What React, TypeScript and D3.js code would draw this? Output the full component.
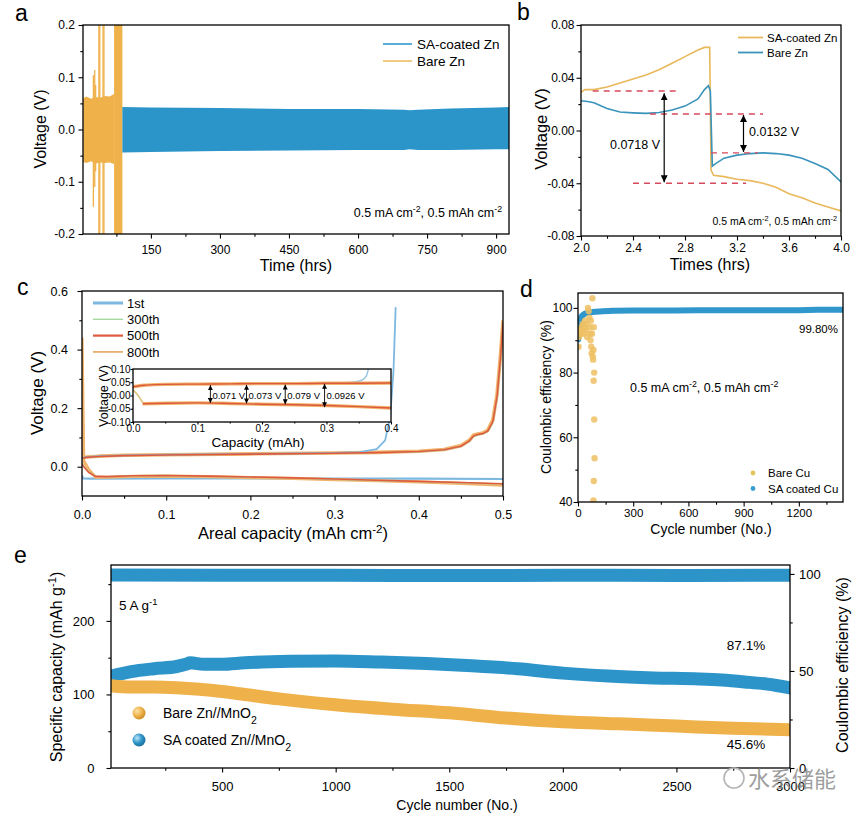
import * as d3 from "d3";
import React, { useEffect, useRef } from "react";

const FONT = "'Liberation Sans', Arial, Helvetica, sans-serif";

// ---- panel a: long-term cycling of Zn symmetric cells (envelopes of the dense trace)
const bareBandTime = [3, 10, 20, 30, 40, 50, 60, 70];
const bareBandHigh = [0.060, 0.063, 0.059, 0.062, 0.061, 0.064, 0.063, 0.068];
const bareBandLow = [-0.062, -0.064, -0.061, -0.065, -0.063, -0.064, -0.063, -0.066];
const bareSpikeTime = [25, 28, 30, 37, 39, 46, 48];
const bareSpikeHigh = [0.104, 0.114, 0.085, 0.2, 0.2, 0.2, 0.2];
const bareSpikeLow = [-0.148, -0.11, -0.08, -0.2, -0.2, -0.2, -0.2];
const bareFailTime = [70, 88];
const bareFailHigh = [0.2, 0.2];
const bareFailLow = [-0.2, -0.2];
const saBandTime = [88, 150, 300, 450, 600, 700, 712, 730, 800, 900, 928];
const saBandHigh = [0.043, 0.042, 0.041, 0.039, 0.039, 0.038, 0.037, 0.038, 0.040, 0.042, 0.043];
const saBandLow = [-0.044, -0.043, -0.041, -0.040, -0.039, -0.039, -0.038, -0.039, -0.039, -0.038, -0.038];
const aTimeTicks = [150, 300, 450, 600, 750, 900];
const aTimeMinor = [75, 225, 375, 525, 675, 825];
const aVoltTicks = [-0.2, -0.1, 0, 0.1, 0.2];
const aVoltMinor = [-0.15, -0.05, 0.05, 0.15];

// ---- panel b: single cycle zoom
const bSaTime = [2.0, 2.03, 2.1, 2.2, 2.3, 2.4, 2.5, 2.6, 2.7, 2.8, 2.9, 2.95, 2.99, 3.0, 3.02, 3.1, 3.2, 3.3, 3.4, 3.5, 3.6, 3.7, 3.8, 3.9, 4.0];
const bSaVolt = [0.029, 0.031, 0.031, 0.033, 0.036, 0.039, 0.042, 0.046, 0.051, 0.056, 0.061, 0.063, 0.063, -0.030, -0.034, -0.035, -0.037, -0.038, -0.040, -0.043, -0.048, -0.051, -0.055, -0.058, -0.061];
const bBareTime = [2.0, 2.05, 2.1, 2.2, 2.3, 2.4, 2.5, 2.6, 2.7, 2.8, 2.9, 2.95, 2.98, 2.995, 3.01, 3.03, 3.1, 3.2, 3.3, 3.4, 3.5, 3.6, 3.7, 3.8, 3.9, 4.0];
const bBareVolt = [0.0226, 0.022, 0.021, 0.0167, 0.014, 0.0134, 0.013, 0.0137, 0.0155, 0.0185, 0.024, 0.031, 0.034, 0.030, -0.027, -0.0255, -0.021, -0.0187, -0.0175, -0.017, -0.0175, -0.0187, -0.021, -0.025, -0.0296, -0.039];
const bDashY = [0.030, 0.0125, -0.017, -0.040];
const bDashFrom = [2.09, 2.53, 3.0, 2.4];
const bDashTo = [2.76, 3.4, 3.36, 3.27];
const bArrowX = [2.64, 3.25];
const bArrowTop = [0.029, 0.0125];
const bArrowBottom = [-0.040, -0.017];
const bTimeTicks = [2.0, 2.4, 2.8, 3.2, 3.6, 4.0];
const bTimeMinor = [2.2, 2.6, 3.0, 3.4, 3.8];
const bVoltTicks = [-0.08, -0.04, 0, 0.04, 0.08];
const bVoltMinor = [-0.06, -0.02, 0.02, 0.06];

// ---- panel c: voltage profiles
const cChargeCap = [0, 0.005, 0.02, 0.05, 0.1, 0.2, 0.3, 0.35, 0.4, 0.43, 0.45, 0.46, 0.465, 0.47, 0.476, 0.482, 0.488, 0.493, 0.497, 0.5];
const c800Charge = [0.030, 0.033, 0.036, 0.039, 0.041, 0.044, 0.047, 0.049, 0.053, 0.059, 0.072, 0.090, 0.108, 0.112, 0.115, 0.125, 0.160, 0.250, 0.380, 0.500];
const c500Charge = [0.029, 0.032, 0.035, 0.038, 0.040, 0.043, 0.046, 0.048, 0.052, 0.058, 0.070, 0.088, 0.105, 0.110, 0.113, 0.122, 0.155, 0.240, 0.370, 0.490];
const c300Charge = [0.029, 0.032, 0.035, 0.038, 0.040, 0.043, 0.046, 0.048, 0.051, 0.057, 0.069, 0.086, 0.103, 0.108, 0.112, 0.120, 0.150, 0.230, 0.360, 0.480];
const c1stChargeCap = [0, 0.005, 0.02, 0.05, 0.1, 0.2, 0.3, 0.33, 0.35, 0.36, 0.366, 0.37, 0.3725];
const c1stCharge = [0.030, 0.033, 0.036, 0.039, 0.041, 0.044, 0.047, 0.050, 0.060, 0.090, 0.170, 0.330, 0.545];
const cDischargeCap = [0, 0.002, 0.008, 0.016, 0.03, 0.06, 0.1, 0.15, 0.2, 0.25, 0.3, 0.35, 0.4, 0.45, 0.5];
const c800Discharge = [0.44, 0.02, -0.01, -0.036, -0.036, -0.033, -0.032, -0.034, -0.037, -0.040, -0.044, -0.048, -0.052, -0.057, -0.063];
const c500Discharge = [0.01, 0.0, -0.02, -0.033, -0.034, -0.031, -0.030, -0.032, -0.035, -0.038, -0.042, -0.046, -0.050, -0.054, -0.058];
const c300Discharge = [0.012, 0.002, -0.018, -0.032, -0.034, -0.031, -0.030, -0.033, -0.036, -0.039, -0.043, -0.047, -0.051, -0.055, -0.059];
const c1stDischargeCap = [0, 0.001, 0.01, 0.1, 0.2, 0.3, 0.4, 0.5];
const c1stDischarge = [-0.03, -0.040, -0.041, -0.040, -0.040, -0.041, -0.041, -0.042];
const cCapTicks = [0, 0.1, 0.2, 0.3, 0.4, 0.5];
const cCapMinor = [0.05, 0.15, 0.25, 0.35, 0.45];
const cVoltTicks = [0, 0.2, 0.4, 0.6];
const cVoltMinor = [0.1, 0.3, 0.5];
const cLegend = ["1st", "300th", "500th", "800th"];

// ---- panel c inset (mAh)
const insUpCap = [0, 0.01, 0.02, 0.05, 0.1, 0.15, 0.2, 0.25, 0.3, 0.35, 0.4];
const insUp = [0.033, 0.037, 0.039, 0.042, 0.043, 0.044, 0.045, 0.045, 0.046, 0.046, 0.047];
const insLowCap = [0.015, 0.05, 0.1, 0.15, 0.2, 0.25, 0.3, 0.35, 0.4];
const insLow = [-0.031, -0.029, -0.028, -0.030, -0.033, -0.035, -0.038, -0.042, -0.047];
const insDropCap = [0, 0.008, 0.015, 0.02];
const insDrop = [0.021, 0.0, -0.025, -0.031];
const ins1stCap = [0.3, 0.34, 0.355, 0.362, 0.366];
const ins1st = [0.046, 0.050, 0.058, 0.075, 0.110];
const insArrowCap = [0.12, 0.176, 0.236, 0.297];
const insArrowTop = [0.041, 0.042, 0.043, 0.046];
const insArrowBottom = [-0.030, -0.032, -0.035, -0.046];
const insArrowLabel = ["0.071 V", "0.073 V", "0.079 V", "0.0926 V"];
const insCapTicks = [0, 0.1, 0.2, 0.3, 0.4];
const insVoltTicks = [-0.1, -0.05, 0, 0.05, 0.1];

// ---- panel d: Coulombic efficiency of Zn||Cu
const dSaCycle = [1, 3, 6, 10, 18, 30, 45, 80, 120, 200, 300, 500, 800, 1000, 1200, 1300, 1440];
const dSaCE = [90.3, 93, 95, 96.3, 97.2, 97.9, 98.4, 98.7, 98.9, 99.1, 99.2, 99.2, 99.3, 99.3, 99.3, 99.4, 99.4];
const dBareCycle = [3, 6, 10, 14, 18, 22, 26, 30, 34, 38, 42, 46, 50, 54, 58, 62, 64, 66, 68, 70, 72, 74, 76, 78, 80, 82, 84, 86, 88, 85, 88, 90, 86, 84];
const dBareCE = [88, 91, 93, 92, 94, 93, 95, 92, 94, 96, 93, 95, 91, 100, 99, 97, 94, 92, 90, 96, 88, 86, 92, 103, 85, 84, 87, 94, 80, 77.5, 65.5, 53.5, 46.5, 40.5];
const dCycleTicks = [0, 300, 600, 900, 1200];
const dCycleMinor = [150, 450, 750, 1050, 1350];
const dCETicks = [40, 60, 80, 100];
const dCEMinor = [50, 70, 90];

// ---- panel e: Zn//MnO2 full cells at 5 A g-1
const eSaCycle = [12, 100, 200, 300, 340, 360, 420, 500, 600, 800, 1000, 1200, 1400, 1600, 1800, 2000, 2200, 2400, 2600, 2700, 2800, 2900, 3000];
const eSaCap = [125, 131, 135, 138, 141, 143, 141, 141, 143, 145, 145.5, 144, 142, 139, 135, 129, 125, 122.5, 121, 119.5, 117, 114, 109];
const eBareCycle = [12, 100, 200, 300, 400, 500, 600, 750, 1000, 1250, 1500, 1750, 2000, 2250, 2500, 2750, 3000];
const eBareCap = [112, 110, 110, 109, 107, 104, 100, 94, 86, 80, 75, 68, 63, 60, 57, 54, 52];
const eCECycle = [12, 500, 1000, 1500, 2000, 2500, 3000];
const eCE = [99.4, 99.3, 99.3, 99.2, 99.3, 99.2, 99.3];
const eCycleTicks = [500, 1000, 1500, 2000, 2500, 3000];
const eCycleMinor = [250, 750, 1250, 1750, 2250, 2750];
const eCapTicks = [0, 100, 200];
const eCapMinor = [50, 150, 250];
const eCETicks = [0, 50, 100];
const eCEMinor = [25, 75];

const BLUE = "#2b95ca";
const ORANGE = "#efb24b";

type G = d3.Selection<SVGGElement, unknown, null, undefined>;
type Lin = d3.ScaleLinear<number, number>;
type Part = [string, string?];

function drawAxis(g: G, scale: Lin, side: "bottom" | "left" | "right", at: number,
  major: number[], minor: number[], fmt: (v: number) => string, fontSize: number, pad: number, len = 4.5) {
  const make = side === "bottom" ? d3.axisBottom : side === "left" ? d3.axisLeft : d3.axisRight;
  const tr = side === "bottom" ? `translate(0,${at})` : `translate(${at},0)`;
  const gMinor = g.append("g").attr("transform", tr)
    .call(make(scale).tickValues(minor).tickSize(len * 0.6).tickFormat(() => ""));
  const gMajor = g.append("g").attr("transform", tr)
    .call(make(scale).tickValues(major).tickSize(len).tickPadding(pad).tickFormat((v: any) => fmt(+v)));
  [gMinor, gMajor].forEach(s => {
    s.select(".domain").remove();
    s.attr("font-size", fontSize).attr("font-family", FONT).style("color", "#000");
    s.selectAll("line").attr("stroke-width", 1.1);
  });
}

function frame(g: G, x: Lin, y: Lin) {
  const [x0, x1] = x.range();
  const [y0, y1] = y.range();
  g.append("rect")
    .attr("x", Math.min(x0, x1)).attr("y", Math.min(y0, y1))
    .attr("width", Math.abs(x1 - x0)).attr("height", Math.abs(y1 - y0))
    .attr("fill", "none").attr("stroke", "#000").attr("stroke-width", 1.3);
}

function clipTo(g: G, id: string, x: Lin, y: Lin) {
  const [x0, x1] = x.range();
  const [y0, y1] = y.range();
  g.append("clipPath").attr("id", id).append("rect")
    .attr("x", Math.min(x0, x1)).attr("y", Math.min(y0, y1))
    .attr("width", Math.abs(x1 - x0)).attr("height", Math.abs(y1 - y0));
  return g.append("g").attr("clip-path", `url(#${id})`);
}

function text(g: G, x: number, y: number, parts: Part[] | string, size: number, anchor = "start", rotate = false) {
  const t = g.append("text")
    .attr("font-family", FONT).attr("font-size", size).attr("fill", "#000")
    .attr("text-anchor", anchor);
  if (rotate) {
    t.attr("transform", `translate(${x},${y}) rotate(-90)`).attr("dy", "0.35em");
  } else {
    t.attr("x", x).attr("y", y);
  }
  const list: Part[] = typeof parts === "string" ? [[parts]] : parts;
  list.forEach(([s, kind]) => {
    const ts = t.append("tspan").text(s);
    if (kind === "sup") ts.attr("baseline-shift", "super").attr("font-size", "70%");
    if (kind === "sub") ts.attr("baseline-shift", "sub").attr("font-size", "75%");
  });
  return t;
}

function pathOf(xs: number[], ys: number[], x: Lin, y: Lin, curve = d3.curveMonotoneX as d3.CurveFactory) {
  return d3.line<number>().x((_, i) => x(xs[i])).y((_, i) => y(ys[i])).curve(curve)(xs) || "";
}

function bandOf(xs: number[], lo: number[], hi: number[], x: Lin, y: Lin) {
  return d3.area<number>().x((_, i) => x(xs[i])).y0((_, i) => y(lo[i])).y1((_, i) => y(hi[i])).curve(d3.curveLinear)(xs) || "";
}

const condition: Part[] = [["0.5 mA cm"], ["-2", "sup"], [", 0.5 mAh cm"], ["-2", "sup"]];

function panelA(g: G) {
  const x = d3.scaleLinear().domain([2.5, 928]).range([83, 509]);
  const y = d3.scaleLinear().domain([-0.2, 0.2]).range([234, 25]);
  const c = clipTo(g, "clipA", x, y);
  c.append("path").attr("d", bandOf(bareBandTime, bareBandLow, bareBandHigh, x, y)).attr("fill", ORANGE);
  bareSpikeTime.forEach((t, i) => {
    c.append("line").attr("x1", x(t)).attr("x2", x(t)).attr("y1", y(bareSpikeLow[i])).attr("y2", y(bareSpikeHigh[i]))
      .attr("stroke", ORANGE).attr("stroke-width", 1.3);
  });
  c.append("path").attr("d", bandOf(bareFailTime, bareFailLow, bareFailHigh, x, y)).attr("fill", ORANGE);
  c.append("path").attr("d", bandOf(saBandTime, saBandLow, saBandHigh, x, y)).attr("fill", BLUE);
  frame(g, x, y);
  drawAxis(g, x, "bottom", 234, aTimeTicks, aTimeMinor, v => `${v}`, 12, 6.5);
  drawAxis(g, y, "left", 83, aVoltTicks, aVoltMinor, v => v.toFixed(1), 12, 3.5);
  text(g, 40, 129, "Voltage (V)", 16, "middle", true);
  text(g, 296, 271, "Time (hrs)", 16, "middle");
  [["SA-coated Zn", "#4aa3d6"], ["Bare Zn", "#f1c374"]].forEach(([name, col], i) => {
    const cy = 44 + i * 17;
    g.append("line").attr("x1", 383).attr("x2", 412).attr("y1", cy).attr("y2", cy).attr("stroke", col).attr("stroke-width", 1.8);
    text(g, 417, cy + 4.7, name, 13.5);
  });
  text(g, 502, 217, condition, 12.5, "end");
  text(g, 15, 21, "a", 23);
}

function panelB(g: G) {
  const x = d3.scaleLinear().domain([2, 4]).range([581, 841]);
  const y = d3.scaleLinear().domain([-0.08, 0.08]).range([236, 25]);
  const c = clipTo(g, "clipB", x, y);
  c.append("path").attr("d", pathOf(bSaTime, bSaVolt, x, y, d3.curveLinear)).attr("fill", "none").attr("stroke", "#e9b85b").attr("stroke-width", 1.6);
  c.append("path").attr("d", pathOf(bBareTime, bBareVolt, x, y, d3.curveLinear)).attr("fill", "none").attr("stroke", "#3a93ba").attr("stroke-width", 1.6);
  bDashY.forEach((v, i) => {
    c.append("line").attr("x1", x(bDashFrom[i])).attr("x2", x(bDashTo[i])).attr("y1", y(v)).attr("y2", y(v))
      .attr("stroke", "#d64a5c").attr("stroke-width", 1.4).attr("stroke-dasharray", "6,5");
  });
  bArrowX.forEach((t, i) => {
    c.append("line").attr("x1", x(t)).attr("x2", x(t)).attr("y1", y(bArrowTop[i]) + 1).attr("y2", y(bArrowBottom[i]) - 1)
      .attr("stroke", "#000").attr("stroke-width", 1.2)
      .attr("marker-start", "url(#arrowB)").attr("marker-end", "url(#arrowB)");
  });
  frame(g, x, y);
  drawAxis(g, x, "bottom", 236, bTimeTicks, bTimeMinor, v => v.toFixed(1), 12, 3);
  drawAxis(g, y, "left", 581, bVoltTicks, bVoltMinor, v => v.toFixed(2), 12, 2);
  text(g, 541, 129, "Voltage (V)", 16.5, "middle", true);
  text(g, 710, 270, "Times (hrs)", 16, "middle");
  [["SA-coated Zn", "#e9b85b"], ["Bare Zn", "#3a93ba"]].forEach(([name, col], i) => {
    const cy = 37.5 + i * 15;
    g.append("line").attr("x1", 738).attr("x2", 763).attr("y1", cy).attr("y2", cy).attr("stroke", col).attr("stroke-width", 1.8);
    text(g, 767, cy + 4.2, name, 11.5);
  });
  text(g, 660, 149, "0.0718 V", 12.5, "end");
  text(g, 749, 136, "0.0132 V", 12.5);
  text(g, 837, 225, condition, 10.5, "end");
  text(g, 517, 20, "b", 23);
}

function panelC(g: G) {
  const x = d3.scaleLinear().domain([0, 0.5]).range([82, 503]);
  const y = d3.scaleLinear().domain([-0.1, 0.6]).range([496, 291]);
  const c = clipTo(g, "clipC", x, y);
  const line = (xs: number[], ys: number[], col: string, w: number) =>
    c.append("path").attr("d", pathOf(xs, ys, x, y, d3.curveLinear)).attr("fill", "none")
      .attr("stroke", col).attr("stroke-width", w).attr("stroke-linejoin", "round");
  line(c1stDischargeCap, c1stDischarge, "#7db8e0", 2.2);
  line(cChargeCap, c800Charge, "#f2b46c", 3.6);
  line(cDischargeCap, c800Discharge, "#f2b46c", 3.2);
  line(cChargeCap, c300Charge, "#a7d89f", 1.4);
  line(cDischargeCap, c300Discharge, "#a7d89f", 1.4);
  line(c1stChargeCap, c1stCharge, "#7db8e0", 1.8);
  line(cChargeCap, c500Charge, "#e05a3f", 1.6);
  line(cDischargeCap, c500Discharge, "#e05a3f", 1.6);
  frame(g, x, y);
  drawAxis(g, x, "bottom", 496, cCapTicks, cCapMinor, v => v.toFixed(1), 12.5, 10);
  drawAxis(g, y, "left", 82, cVoltTicks, cVoltMinor, v => v.toFixed(1), 12.5, 9.5);
  text(g, 37, 393, "Voltage (V)", 17, "middle", true);
  text(g, 293, 539, [["Areal capacity (mAh cm"], ["-2", "sup"], [")"]], 16.5, "middle");
  const legCols = ["#7db8e0", "#a7d89f", "#e05a3f", "#e8b072"];
  const legW = [3, 1.4, 2.2, 1.8];
  cLegend.forEach((name, i) => {
    const cy = 303 + i * 16.3;
    g.append("line").attr("x1", 93).attr("x2", 123).attr("y1", cy).attr("y2", cy).attr("stroke", legCols[i]).attr("stroke-width", legW[i]);
    text(g, 127, cy + 4.6, name, 13);
  });

  // inset
  const xi = d3.scaleLinear().domain([0, 0.4]).range([133, 391]);
  const yi = d3.scaleLinear().domain([-0.1, 0.1]).range([422, 369]);
  g.append("rect").attr("x", 133).attr("y", 369).attr("width", 258).attr("height", 53).attr("fill", "#fff");
  const ci = clipTo(g, "clipCi", xi, yi);
  const iline = (xs: number[], ys: number[], col: string, w: number) =>
    ci.append("path").attr("d", pathOf(xs, ys, xi, yi, d3.curveMonotoneX)).attr("fill", "none")
      .attr("stroke", col).attr("stroke-width", w);
  iline(ins1stCap, ins1st, "#8fc2e4", 1.3);
  iline(insDropCap, insDrop, "#d8c27a", 1.6);
  iline(insUpCap, insUp, "#f2b46c", 3.4);
  iline(insLowCap, insLow, "#f2b46c", 3.4);
  iline(insUpCap, insUp, "#dc5a3c", 1.4);
  iline(insLowCap, insLow, "#dc5a3c", 1.4);
  insArrowCap.forEach((v, i) => {
    ci.append("line").attr("x1", xi(v)).attr("x2", xi(v)).attr("y1", yi(insArrowTop[i]) + 0.5).attr("y2", yi(insArrowBottom[i]) - 0.5)
      .attr("stroke", "#000").attr("stroke-width", 0.9)
      .attr("marker-start", "url(#arrowS)").attr("marker-end", "url(#arrowS)");
    text(g, xi(v) + 2, yi(0) + 3.5, insArrowLabel[i], 9.5);
  });
  frame(g, xi, yi);
  drawAxis(g, xi, "bottom", 422, insCapTicks, [0.05, 0.15, 0.25, 0.35], v => v.toFixed(1), 10, 0.5, 2.5);
  drawAxis(g, yi, "left", 133, insVoltTicks, [], v => v.toFixed(2), 10, 0, 2.5);
  text(g, 104, 396, "Voltage (V)", 12.5, "middle", true);
  text(g, 258, 447, "Capacity (mAh)", 13.5, "middle");
  text(g, 17, 295, "c", 23);
}

function panelD(g: G) {
  const x = d3.scaleLinear().domain([0, 1440]).range([578, 843]);
  const y = d3.scaleLinear().domain([40, 104.6]).range([502, 293]);
  const c = clipTo(g, "clipD", x, y);
  c.append("path").attr("d", pathOf(dSaCycle, dSaCE, x, y)).attr("fill", "none")
    .attr("stroke", "#2f97cb").attr("stroke-width", 6).attr("stroke-linecap", "round");
  c.selectAll(".pt").data(dBareCycle).enter().append("circle")
    .attr("cx", d => x(d)).attr("cy", (_, i) => y(dBareCE[i])).attr("r", 3.2)
    .attr("fill", "#efc063").attr("fill-opacity", 0.85);
  frame(g, x, y);
  drawAxis(g, x, "bottom", 502, dCycleTicks, dCycleMinor, v => `${v}`, 11.5, 2);
  drawAxis(g, y, "left", 578, dCETicks, dCEMinor, v => `${v}`, 12, 1);
  text(g, 546, 397, "Coulombic efficiency (%)", 14, "middle", true);
  text(g, 711, 534, "Cycle number (No.)", 14, "middle");
  text(g, 838, 333, "99.80%", 11.5, "end");
  text(g, 630, 392, [["0.5 mA cm"], ["-2", "sup"], [", 0.5 mAh cm"], ["-2", "sup"]], 12.5);
  [["Bare Cu", "#e5c45c"], ["SA coated Cu", "#3a9fd0"]].forEach(([name, col], i) => {
    const cy = 473 + i * 15.5;
    g.append("circle").attr("cx", 753).attr("cy", cy).attr("r", 2.4).attr("fill", col);
    text(g, 768, cy + 4.2, name, 11.5);
  });
  text(g, 520, 297, "d", 23);
}

function panelE(g: G) {
  const x = d3.scaleLinear().domain([11, 3000]).range([111, 790]);
  const yl = d3.scaleLinear().domain([0, 276]).range([768, 565]);
  const yr = d3.scaleLinear().domain([0, 104.6]).range([768, 565]);
  const c = clipTo(g, "clipE", x, yl);
  const band = (xs: number[], ys: number[], ys2: Lin, col: string) =>
    c.append("path").attr("d", pathOf(xs, ys, x, ys2)).attr("fill", "none")
      .attr("stroke", col).attr("stroke-width", 13).attr("stroke-linecap", "round");
  band(eCECycle, eCE, yr, "#2c94c9");
  band(eSaCycle, eSaCap, yl, "#2c94c9");
  band(eBareCycle, eBareCap, yl, ORANGE);
  frame(g, x, yl);
  drawAxis(g, x, "bottom", 768, eCycleTicks, eCycleMinor, v => `${v}`, 13, 9.5);
  drawAxis(g, yl, "left", 111, eCapTicks, eCapMinor, v => `${v}`, 13, 12);
  drawAxis(g, yr, "right", 790, eCETicks, eCEMinor, v => `${v}`, 13, 4.5);
  text(g, 56, 667, [["Specific capacity (mAh g"], ["-1", "sup"], [")"]], 16, "middle", true);
  text(g, 842, 665, "Coulombic efficiency (%)", 16, "middle", true);
  text(g, 457, 810, "Cycle number (No.)", 14, "middle");
  text(g, 119, 610, [["5 A g"], ["-1", "sup"]], 13.5);
  text(g, 746, 650, "87.1%", 13.5, "middle");
  text(g, 746, 749, "45.6%", 13.5, "middle");
  [["Bare Zn//MnO", "gradO"], ["SA coated Zn//MnO", "gradB"]].forEach(([name, grad], i) => {
    const cy = 713 + i * 27;
    g.append("circle").attr("cx", 139).attr("cy", cy).attr("r", 6.5).attr("fill", `url(#${grad})`);
    text(g, 163, cy + 5, [[name], ["2", "sub"]], 14);
  });
  text(g, 14, 563, "e", 23);
  // watermark
  g.append("circle").attr("cx", 734).attr("cy", 778).attr("r", 10).attr("fill", "none").attr("stroke", "#b5b5b5").attr("stroke-width", 1.6);
  g.append("text").attr("x", 748).attr("y", 787).attr("font-family", "'Noto Sans CJK SC', sans-serif")
    .attr("font-size", 22).attr("fill", "#8c8c8c").attr("fill-opacity", 0.85).text("水系储能");
}

const App: React.FC = () => {
  const svgRef = useRef<SVGSVGElement>(null);

  useEffect(() => {
    if (!svgRef.current) { return; }
    const svg = d3.select(svgRef.current);
    svg.selectAll("*").remove();
    const defs = svg.append("defs");
    // arrow heads for the voltage gaps
    [["arrowB", 7], ["arrowS", 5]].forEach(([id, s]) => {
      const size = s as number;
      defs.append("marker").attr("id", id as string)
        .attr("markerUnits", "userSpaceOnUse").attr("markerWidth", size).attr("markerHeight", size)
        .attr("refX", size).attr("refY", size / 2).attr("orient", "auto-start-reverse")
        .append("path").attr("d", `M0,0 L${size},${size / 2} L0,${size} z`).attr("fill", "#000");
    });
    // shaded spheres for legend markers in panel e
    [["gradO", "#fbe3a8", ORANGE, "#c98a22"], ["gradB", "#bfe6f8", "#2c94c9", "#1d6d99"]].forEach(([id, hi, mid, lo]) => {
      const gr = defs.append("radialGradient").attr("id", id).attr("cx", "35%").attr("cy", "35%").attr("r", "70%");
      gr.append("stop").attr("offset", "0%").attr("stop-color", hi);
      gr.append("stop").attr("offset", "55%").attr("stop-color", mid);
      gr.append("stop").attr("offset", "100%").attr("stop-color", lo);
    });
    const root = svg.append("g") as unknown as G;
    panelA(root.append("g"));
    panelB(root.append("g"));
    panelC(root.append("g"));
    panelD(root.append("g"));
    panelE(root.append("g"));
  }, []);

  return (
    <svg
      ref={svgRef}
      width={865}
      height={819}
      style={{ position: "absolute", left: 0, top: 0, background: "#fff" }}
    />
  );
};

export default App;
